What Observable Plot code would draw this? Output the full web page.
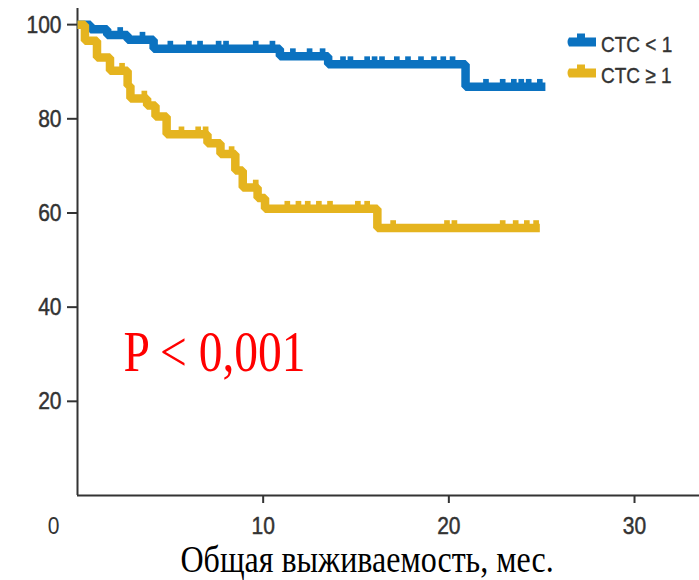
<!DOCTYPE html>
<html><head><meta charset="utf-8">
<script src="https://cdn.jsdelivr.net/npm/d3@7"></script>
<script src="https://cdn.jsdelivr.net/npm/@observablehq/plot@0.6"></script>
<style>
body{margin:0;background:#fff;}
#chart{position:relative;width:699px;height:580px;}
</style></head><body><div id="chart"></div>
<script>
// ---- data ----
const seriesNames = ["CTC < 1", "CTC ≥ 1"];
const seriesColors = ["#0b72c0", "#e5b41f"];
// CTC < 1: step start times (months) and survival (%)
const lowTimes = [0, 0.7, 1.6, 2.7, 4.1, 10.9, 13.5, 20.9, 25.2];
const lowSurv  = [100, 99, 97.8, 96.8, 94.9, 93.3, 91.6, 86.8, 86.8];
const lowCensor = [2.3, 3.5, 5.0, 6.0, 6.6, 7.6, 8.0, 9.6, 10.5, 11.6, 12.5, 13.2, 14.3, 14.7, 15.6, 16.0, 16.4, 17.2, 17.8, 18.5, 19.2, 19.7, 20.2, 22.0, 22.9, 23.5, 23.9, 24.3, 24.9];
// CTC >= 1
const highTimes = [0, 0.4, 1.05, 1.75, 2.7, 2.85, 3.75, 4.2, 4.8, 7.0, 7.7, 8.5, 8.9, 9.7, 10.1, 16.15, 24.9];
const highSurv  = [100, 96.6, 93, 90.2, 87, 84.3, 82.8, 80.5, 76.7, 74.8, 72.5, 69, 65.4, 63.2, 60.9, 56.8, 56.8];
const highCensor = [2.4, 3.6, 5.6, 6.5, 6.9, 8.3, 9.6, 11.3, 11.9, 12.4, 13.0, 13.6, 15.1, 15.6, 17.0, 19.9, 20.3, 22.9, 23.6, 24.2, 24.7];
const xTicks = [10, 20, 30];
const yTicks = [20, 40, 60, 80, 100];
const originLabel = ["0"];
const pLabel = ["P < 0,001"];
const xTitle = ["Общая выживаемость, мес."];

// ---- build tables ----
function stepValue(times, surv, t) {
  let v = surv[0];
  for (let i = 0; i < times.length; i++) if (times[i] <= t) v = surv[i];
  return v;
}
const curves = [
  {name: seriesNames[0], times: lowTimes, surv: lowSurv, censor: lowCensor},
  {name: seriesNames[1], times: highTimes, surv: highSurv, censor: highCensor}
];
const lines = curves.map(c => c.times.map((t, i) => ({group: c.name, t, v: c.surv[i]})));
const cens = curves.map(c => c.censor.map(t => ({group: c.name, t, v: stepValue(c.times, c.surv, t)})));

const svg = Plot.plot({
  width: 699, height: 580,
  marginLeft: 77, marginRight: 0, marginTop: 10, marginBottom: 85,
  style: {fontFamily: "Liberation Sans, Arial, sans-serif", fontSize: "21px", color: "#333", background: "#fff"},
  x: {domain: [0, 33.5]},
  y: {domain: [0, 103]},
  color: {domain: seriesNames, range: seriesColors},
  marks: [
    Plot.axisY(yTicks, {tickSize: 10, tickPadding: 6, label: null, strokeWidth: 2}),
    Plot.axisX(xTicks, {tickSize: 8, tickPadding: 13, label: null, strokeWidth: 2}),
    Plot.text(originLabel, {x: 0, y: 0, text: d => d, dx: -24, dy: 21, lineAnchor: "top", fill: "#333"}),
    Plot.ruleX([0], {y1: 0, y2: 103.4, stroke: "#333", strokeWidth: 2}),
    Plot.ruleY([0], {stroke: "#333", strokeWidth: 2}),
    Plot.line(lines[0], {x: "t", y: "v", stroke: "group", strokeWidth: 8.5, curve: "step-after", strokeLinejoin: "miter", strokeLinecap: "butt"}),
    Plot.dot(cens[0], {x: "t", y: "v", fill: "group", symbol: "square", r: 3.2, dy: -5}),
    Plot.line(lines[1], {x: "t", y: "v", stroke: "group", strokeWidth: 8.5, curve: "step-after", strokeLinejoin: "miter", strokeLinecap: "butt"}),
    Plot.dot(cens[1], {x: "t", y: "v", fill: "group", symbol: "square", r: 3.2, dy: -5}),
    Plot.text(pLabel, {x: 2.48, y: 30.2, text: d => d, textAnchor: "start", lineAnchor: "middle", fill: "#ff0000", fontSize: 47.5, fontFamily: "Liberation Serif, Times New Roman, serif"}),
    Plot.text(xTitle, {frameAnchor: "bottom-left", text: d => d, textAnchor: "start", lineAnchor: "middle", dx: 103, dy: 64, fill: "#000", fontSize: 32, fontFamily: "Liberation Serif, Times New Roman, serif"})
  ]
});
document.getElementById("chart").append(svg);

// tick labels look heavier in the reference
d3.select(svg).selectAll('g[aria-label="y-axis tick label"] text, g[aria-label="x-axis tick label"] text')
  .attr("stroke", "#333").attr("stroke-width", 0.5).attr("paint-order", "stroke");

// ---- legend ----
const lg = d3.select(svg).append("g").attr("class", "legend");
seriesNames.forEach((name, i) => {
  const cy = 42 + i * 31;
  const row = lg.append("g").attr("transform", `translate(566,${cy})`);
  row.append("path").attr("d", "M3,-4.5 H30 V4.5 H3 Q0,0 3,-4.5 Z").attr("fill", seriesColors[i]);
  row.append("rect").attr("x", 11).attr("y", -8.5).attr("width", 8).attr("height", 5).attr("fill", seriesColors[i]);
  row.append("text").attr("x", 35).attr("y", 2).attr("dy", "0.35em").attr("fill", "#333")
    .attr("text-anchor", "start").attr("stroke", "#333").attr("stroke-width", 0.4)
    .style("font-size", "19px").style("font-family", "Liberation Sans, Arial, sans-serif").text(name);
});

// ---- the reference's lettering is vertically stretched: keep width, enlarge height ----
const k = 1.18;
d3.select(svg).selectAll("text").each(function() {
  if (this.querySelector("tspan")) return;
  const len = this.getComputedTextLength();
  const fs = parseFloat(getComputedStyle(this).fontSize);
  this.style.fontSize = (fs * k) + "px";
  this.setAttribute("textLength", len);
  this.setAttribute("lengthAdjust", "spacingAndGlyphs");
});
</script>
</body></html>
